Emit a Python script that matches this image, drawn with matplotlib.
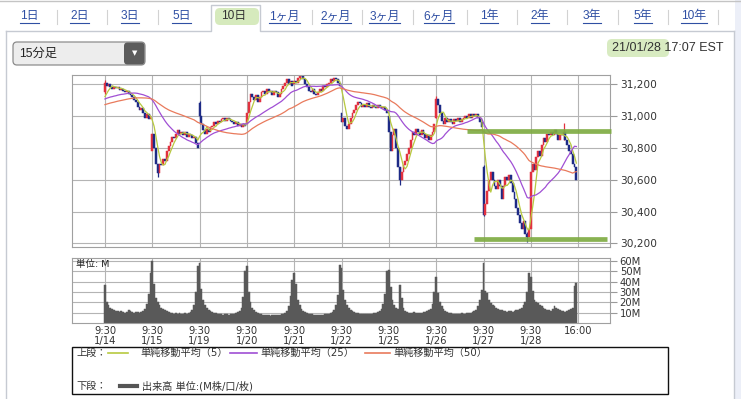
import numpy as np
import pandas as pd
import matplotlib
matplotlib.use("Agg")
import matplotlib.pyplot as plt
from matplotlib.patches import FancyBboxPatch, Rectangle

plt.rcParams['font.family'] = ['DejaVu Sans', 'Noto Sans CJK JP']

# ---- data (15-minute bars, 26 per session) ----
DAYS = ["1/14", "1/15", "1/19", "1/20", "1/21", "1/22", "1/25", "1/26", "1/27", "1/28"]
DAY_OPEN = [31150, 30780, 31080, 30950, 31200, 31020, 31000, 30990, 30680, 30290]
CLOSES = [
    [31210, 31190, 31200, 31180, 31170, 31185, 31175, 31180, 31165, 31170, 31160, 31150, 31155,
     31140, 31130, 31120, 31100, 31090, 31060, 31040, 31050, 31020, 30990, 31010, 30980, 31000],
    [30890, 30800, 30700, 30640, 30700, 30690, 30730, 30720, 30780, 30810, 30840, 30870, 30860,
     30890, 30910, 30890, 30900, 30880, 30900, 30870, 30890, 30880, 30860, 30870, 30830, 30800],
    [31000, 30950, 30910, 30890, 30920, 30900, 30930, 30940, 30960, 30950, 30970, 30960, 30980,
     30990, 30970, 30990, 30980, 30970, 30960, 30950, 30960, 30940, 30950, 30930, 30950, 30940],
    [31020, 31090, 31140, 31120, 31100, 31130, 31090, 31120, 31150, 31160, 31140, 31170, 31150,
     31160, 31130, 31160, 31150, 31120, 31140, 31170, 31190, 31210, 31230, 31200, 31220, 31190],
    [31220, 31210, 31240, 31260, 31250, 31230, 31200, 31180, 31160, 31150, 31170, 31140, 31130,
     31150, 31170, 31160, 31190, 31180, 31200, 31210, 31230, 31220, 31240, 31230, 31210, 31190],
    [30960, 30990, 30940, 30920, 30950, 30990, 31020, 31040, 31070, 31090, 31080, 31060, 31070,
     31060, 31080, 31060, 31050, 31070, 31060, 31050, 31070, 31060, 31050, 31060, 31040, 31020],
    [30900, 30780, 30880, 30920, 30800, 30680, 30600, 30650, 30690, 30720, 30760, 30800, 30850,
     30900, 30880, 30920, 30900, 30880, 30910, 30890, 30860, 30880, 30850, 30880, 30900, 30950],
    [31110, 31070, 31020, 30970, 30950, 30990, 30960, 30980, 30960, 30950, 30980, 30970, 30990,
     30960, 30980, 30990, 31000, 30990, 31010, 30990, 31010, 31000, 31010, 30990, 30960, 30930],
    [30380, 30450, 30530, 30600, 30650, 30600, 30560, 30540, 30600, 30560, 30480, 30560, 30620,
     30600, 30630, 30580, 30520, 30480, 30420, 30380, 30330, 30290, 30340, 30260, 30240, 30290],
    [30650, 30700, 30660, 30740, 30780, 30750, 30820, 30860, 30840, 30890, 30880, 30900, 30880,
     30910, 30890, 30850, 30890, 30880, 30900, 30850, 30820, 30780, 30760, 30700, 30680, 30600],
]
# closes of 1/12-1/13 (off screen), only used to seed the moving averages
PREV_CLOSES = [31010, 31030, 31020, 31050, 31040, 31020, 31030, 31060, 31040, 31030, 31050, 31020,
               31010, 31030, 31040, 31020, 31030, 31050, 31040, 31060, 31030, 31020, 31040,
               31060, 31080, 31070, 31100, 31090, 31110, 31100, 31120, 31090, 31100, 31110, 31130,
               31100, 31090, 31110, 31120, 31100, 31090, 31110, 31100, 31120, 31110, 31090, 31100,
               31110, 31100]
# (day, bar, low, high) for the few wicks that stick out
WICKS = [(0, 0, 31140, 31225), (1, 3, 30620, 30700), (2, 0, 30990, 31095), (4, 3, 31230, 31270),
         (6, 6, 30565, 30680), (7, 0, 30985, 31125), (8, 0, 30370, 30690), (8, 24, 30210, 30270),
         (9, 18, 30850, 30955)]
VOLUME = [  # M
    [37, 20, 17, 15, 14, 13, 12, 12, 11, 12, 11, 10, 11, 13, 12, 11, 10, 11, 11, 10, 11, 12, 14, 18, 28, 48],
    [60, 38, 24, 20, 17, 15, 14, 13, 12, 11, 10, 10, 9, 10, 9, 10, 9, 9, 10, 9, 10, 11, 13, 17, 30, 55],
    [58, 33, 22, 17, 15, 13, 12, 11, 10, 10, 9, 9, 9, 8, 9, 9, 8, 9, 9, 9, 10, 11, 12, 15, 25, 50],
    [55, 30, 20, 15, 13, 11, 10, 9, 9, 8, 8, 8, 8, 7, 8, 8, 8, 8, 8, 9, 9, 10, 12, 16, 26, 42],
    [48, 38, 22, 17, 14, 12, 11, 10, 9, 9, 9, 8, 8, 8, 8, 8, 8, 9, 9, 9, 10, 11, 13, 17, 27, 56],
    [53, 32, 22, 17, 15, 13, 12, 11, 10, 10, 9, 9, 9, 9, 9, 9, 9, 9, 10, 10, 11, 12, 14, 18, 28, 50],
    [51, 35, 22, 17, 15, 14, 37, 24, 15, 12, 11, 10, 10, 10, 11, 10, 10, 10, 10, 11, 11, 12, 13, 14, 18, 30],
    [45, 29, 20, 16, 14, 12, 11, 10, 10, 9, 9, 9, 9, 9, 10, 9, 9, 10, 10, 10, 11, 12, 13, 16, 22, 32],
    [58, 31, 29, 22, 19, 17, 16, 15, 14, 13, 13, 12, 12, 11, 12, 12, 11, 12, 13, 13, 14, 15, 17, 20, 30, 48],
    [45, 31, 22, 20, 19, 17, 16, 15, 14, 13, 13, 12, 14, 16, 15, 14, 13, 12, 12, 11, 12, 13, 14, 15, 36, 39],
]
MA_WINDOWS = [5, 25, 50]
PRICE_TICKS = [30200, 30400, 30600, 30800, 31000, 31200]
VOL_TICKS = [10, 20, 30, 40, 50, 60]
# hand-drawn support / resistance marks: (price, first bar)
MARKS = [(30905, 199), (30228, 203)]

TABS = ["1日", "2日", "3日", "5日", "10日", "1ヶ月", "2ヶ月", "3ヶ月", "6ヶ月", "1年", "2年", "3年", "5年", "10年"]
SELECTED = "10日"

# ---- styles ----
UP, DOWN = "#e2313f", "#1d2a86"
MA_COLORS = ["#b7c93f", "#a04fd4", "#e97a5c"]
GRID = "#b4b4b4"
LINK = "#2f4fa3"
W, H = 741, 399


def rect(x0, y0, x1, y1):
    return [x0 / W, 1 - y1 / H, (x1 - x0) / W, (y1 - y0) / H]


closes = np.concatenate(CLOSES).astype(float)
opens = np.concatenate([[o] + c[:-1] for o, c in zip(DAY_OPEN, CLOSES)]).astype(float)
vol = np.concatenate(VOLUME).astype(float)
per_day = len(CLOSES[0])
n = len(closes)
xs = np.arange(n)
full = pd.Series(PREV_CLOSES + list(closes))
mas = [full.rolling(w).mean().to_numpy()[len(PREV_CLOSES):] for w in MA_WINDOWS]

fig = plt.figure(figsize=(W / 100, H / 100), dpi=100)

# ---- widget chrome drawn in pixel coords ----
ov = fig.add_axes([0, 0, 1, 1])
ov.set_xlim(0, W)
ov.set_ylim(H, 0)
ov.axis("off")
ov.add_patch(Rectangle((735, 0), 6, H, color="#eceff8", lw=0))
ov.plot([0, W], [1, 1], color="#c4c4c4", lw=1)
edge = "#c6cad2"
ov.plot([6, 211, 211, 260, 260, 734], [31, 31, 5, 5, 31, 31], color=edge, lw=1)
ov.plot([6, 6], [31, H], color=edge, lw=1)
ov.plot([734, 734], [31, H], color=edge, lw=1)
ov.add_patch(FancyBboxPatch((215, 8), 44, 17, boxstyle="round,pad=0,rounding_size=5",
                            fc="#d2e8b6", ec="none", alpha=0.9))

tab_x = [29.5, 79.5, 130, 181.5, 234, 284.5, 336, 384.5, 439, 489, 540, 592, 643, 694]
sep_x = [57, 107, 158, 312, 362, 413, 467, 517, 567, 618, 668, 718]
for sx in sep_x:
    ov.plot([sx, sx], [10, 24], color="#d2d2d2", lw=0.8)
tab_texts = []
for label, tx in zip(TABS, tab_x):
    sel = label == SELECTED
    t = ov.text(tx, 16.5, label, ha="center", va="center", fontsize=8.6,
                color="#333333" if sel else LINK,
                family=["Liberation Sans", "Noto Sans CJK JP"])
    tab_texts.append((t, sel))

# dropdown
ov.add_patch(FancyBboxPatch((13, 42), 132, 23, boxstyle="round,pad=0,rounding_size=4",
                            fc="#ededed", ec="#8c8c8c", lw=0.9))
ov.add_patch(FancyBboxPatch((124, 42.5), 20.5, 22, boxstyle="round,pad=0,rounding_size=3.5",
                            fc="#5c5c5c", ec="none"))
ov.text(134.5, 53.5, "▼", ha="center", va="center", color="white", fontsize=5)
ov.text(19, 53.5, "15分足", ha="left", va="center", fontsize=8.8, color="#222222",
        family=["Liberation Sans", "Noto Sans CJK JP"])

# timestamp
ov.add_patch(FancyBboxPatch((607, 39), 62, 18, boxstyle="round,pad=0,rounding_size=5",
                            fc="#d4e9bb", ec="none", alpha=0.9))
ov.text(724, 48, "21/01/28 17:07 EST", ha="right", va="center", fontsize=9, color="#333333",
        family="Liberation Sans")

# legend box
ov.add_patch(Rectangle((72, 347), 596, 47, fill=False, ec="#111111", lw=1))
lg_font = dict(fontsize=7.3, color="#333333", va="center")
ov.text(76, 352.5, "上段：", **lg_font)
ov.plot([108, 128], [352.5, 352.5], color=MA_COLORS[0], lw=1.2)
ov.text(140, 352.5, f"単純移動平均（{MA_WINDOWS[0]}）", **lg_font)
ov.plot([230, 257], [352.5, 352.5], color=MA_COLORS[1], lw=1.2)
ov.text(260, 352.5, f"単純移動平均（{MA_WINDOWS[1]}）", **lg_font)
ov.plot([365, 390], [352.5, 352.5], color=MA_COLORS[2], lw=1.2)
ov.text(393, 352.5, f"単純移動平均（{MA_WINDOWS[2]}）", **lg_font)
ov.text(76, 386, "下段：", **lg_font)
ov.plot([120, 137], [386, 386], color="#555555", lw=3)
ov.text(142, 386, "出来高 単位:(M株/口/枚)", **lg_font)

# ---- price panel ----
ax = fig.add_axes(rect(72, 75, 610, 247))
ax.set_xlim(-18.1, 277.5)
ax.set_ylim(30177, 31258)
day_ticks = list(range(0, n + 1, per_day))

body_lo = np.minimum(opens, closes)
body_h = np.maximum(np.abs(closes - opens), 8)
colors = np.where(closes >= opens, UP, DOWN)
for d, b, lo, hi in WICKS:
    i = d * per_day + b
    ax.vlines(i, lo, hi, color=colors[i], lw=0.9, zorder=2)
ax.bar(xs, body_h, bottom=body_lo, width=1.0, color=colors, edgecolor=colors, lw=0.35, zorder=2)
for m, c in zip(mas, MA_COLORS):
    ax.plot(xs, m, color=c, lw=0.9, zorder=3)
for level, start in MARKS:
    ax.hlines(level, start, 277.8 if level > 30500 else 275.8, color="#7fac43", lw=3.4,
              alpha=0.92, zorder=4, clip_on=False)

ax.set_xticks(day_ticks)
ax.set_yticks(PRICE_TICKS)
ax.set_yticklabels([f"{v:,}" for v in PRICE_TICKS])
ax.yaxis.tick_right()
ax.tick_params(axis="x", length=0, labelbottom=False)
ax.tick_params(axis="y", length=5, width=0.8, color="#9a9a9a", labelsize=7.6,
               labelcolor="#333333", pad=2)
ax.grid(True, color=GRID, lw=0.8)
ax.set_axisbelow(True)
for s in ax.spines.values():
    s.set_color("#a0a0a0")
    s.set_linewidth(0.8)

# ---- volume panel ----
axv = fig.add_axes(rect(72, 257.5, 610, 323))
axv.set_xlim(-18.1, 277.5)
axv.set_ylim(0, 63.5)
axv.bar(xs, vol, width=1.0, color="#595959", edgecolor="#595959", lw=0.35, zorder=2)
axv.set_xticks(day_ticks)
axv.set_xticklabels([f"9:30\n{d}" for d in DAYS] + ["16:00"], linespacing=0.95)
axv.set_yticks(VOL_TICKS)
axv.set_yticklabels([f"{v}M" for v in VOL_TICKS])
axv.yaxis.tick_right()
axv.tick_params(axis="x", length=0, labelsize=7.2, labelcolor="#333333", pad=2.5)
axv.tick_params(axis="y", length=5, width=0.8, color="#9a9a9a", labelsize=7.2,
                labelcolor="#333333", pad=2)
axv.grid(True, color=GRID, lw=0.8)
axv.set_axisbelow(True)
for s in axv.spines.values():
    s.set_color("#a0a0a0")
    s.set_linewidth(0.8)
axv.text(0.008, 0.9, "単位: M", transform=axv.transAxes, fontsize=6.8, color="#222222",
         va="center", zorder=5)

# underline the link tabs, using the drawn text extents
renderer = fig.canvas.get_renderer()
inv = ov.transData.inverted()
for t, sel in tab_texts:
    if sel:
        continue
    bb = t.get_window_extent(renderer)
    (x0, _), (x1, _) = inv.transform([(bb.x0, bb.y0), (bb.x1, bb.y0)])
    ov.plot([x0, x1], [22.5, 22.5], color=LINK, lw=0.8)

fig.savefig("out.png", dpi=100)
